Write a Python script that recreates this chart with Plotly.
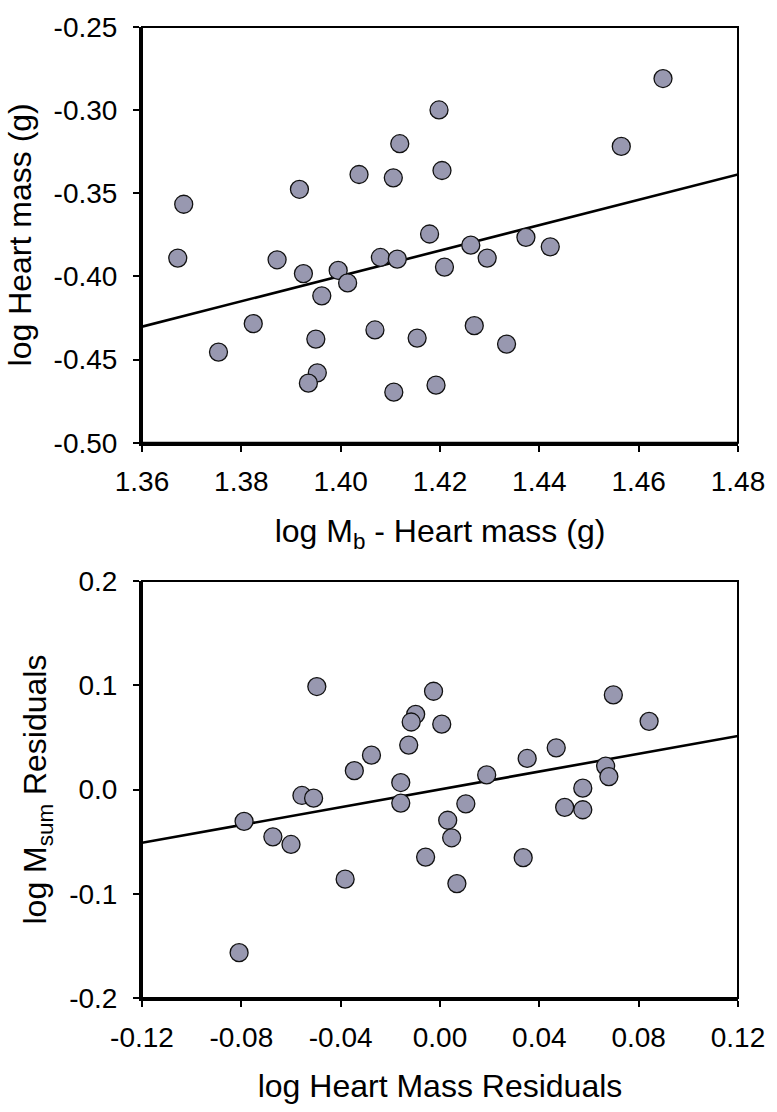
import plotly.graph_objects as go
from plotly.subplots import make_subplots

# ---- Top panel data ----
top_x = [1.3684, 1.3917, 1.4037, 1.4106, 1.4119, 1.4198, 1.4204, 1.4179, 1.4649, 1.4565,
         1.4262, 1.4373, 1.4422, 1.3672, 1.3872, 1.3925, 1.3995, 1.4014, 1.3962, 1.4080,
         1.4114, 1.4209, 1.3824, 1.3754, 1.3950, 1.4069, 1.4154, 1.3953, 1.3935, 1.4107,
         1.4192, 1.4295, 1.4269, 1.4334]
top_y = [-0.3566, -0.3476, -0.3387, -0.3407, -0.3202, -0.2999, -0.3363, -0.3745, -0.2810, -0.3218,
         -0.3812, -0.3765, -0.3822, -0.3890, -0.3900, -0.3983, -0.3964, -0.4039, -0.4117, -0.3886,
         -0.3896, -0.3944, -0.4284, -0.4455, -0.4377, -0.4322, -0.4371, -0.4580, -0.4642, -0.4696,
         -0.4654, -0.3890, -0.4296, -0.4407]
top_fit_x = [1.36, 1.48]
top_fit_y = [-0.4302, -0.3387]
top_xticks = [1.36, 1.38, 1.40, 1.42, 1.44, 1.46, 1.48]
top_xlabels = ["1.36", "1.38", "1.40", "1.42", "1.44", "1.46", "1.48"]
top_yticks = [-0.50, -0.45, -0.40, -0.35, -0.30, -0.25]
top_ylabels = ["-0.50", "-0.45", "-0.40", "-0.35", "-0.30", "-0.25"]

# ---- Bottom panel data ----
bot_x = [-0.0098, -0.0116, 0.0007, -0.0126, -0.0276, -0.0345, -0.0158, -0.0158, -0.0556, -0.0509,
         -0.0789, -0.0673, -0.0600, -0.0382, -0.0058, 0.0031, 0.0047, 0.0188, 0.0351, 0.0468,
         0.0104, 0.0068, 0.0335, 0.0502, 0.0575, 0.0575, 0.0667, 0.0680, 0.0842, -0.0496,
         -0.0026, 0.0698, -0.0809]
bot_y = [0.0721, 0.0648, 0.0627, 0.0426, 0.0330, 0.0181, 0.0067, -0.0130, -0.0057, -0.0083,
         -0.0305, -0.0454, -0.0527, -0.0860, -0.0648, -0.0295, -0.0463, 0.0140, 0.0298, 0.0400,
         -0.0137, -0.0902, -0.0654, -0.0171, 0.0013, -0.0194, 0.0225, 0.0124, 0.0654, 0.0988,
         0.0943, 0.0908, -0.1565]
bot_fit_x = [-0.12, 0.12]
bot_fit_y = [-0.0511, 0.0514]
bot_xticks = [-0.12, -0.08, -0.04, 0.00, 0.04, 0.08, 0.12]
bot_xlabels = ["-0.12", "-0.08", "-0.04", "0.00", "0.04", "0.08", "0.12"]
bot_yticks = [-0.2, -0.1, 0.0, 0.1, 0.2]
bot_ylabels = ["-0.2", "-0.1", "0.0", "0.1", "0.2"]

FONT = "Liberation Sans, Arial, sans-serif"
TICK_SIZE = 28
TITLE_SIZE = 32
MARKER = dict(size=18, color="#9898b0", line=dict(color="#111111", width=1.3))

fig = make_subplots(rows=2, cols=1, vertical_spacing=0.1425)

fig.add_trace(go.Scatter(x=top_fit_x, y=top_fit_y, mode="lines",
                         line=dict(color="black", width=2.6), showlegend=False), row=1, col=1)
fig.add_trace(go.Scatter(x=top_x, y=top_y, mode="markers", marker=MARKER, showlegend=False), row=1, col=1)
fig.add_trace(go.Scatter(x=bot_fit_x, y=bot_fit_y, mode="lines",
                         line=dict(color="black", width=2.6), showlegend=False), row=2, col=1)
fig.add_trace(go.Scatter(x=bot_x, y=bot_y, mode="markers", marker=MARKER, showlegend=False), row=2, col=1)

axis_common = dict(showgrid=False, zeroline=False, showline=True, linecolor="black", linewidth=3,
                   ticks="outside", ticklen=6, tickwidth=1.5, tickcolor="black",
                   tickfont=dict(family=FONT, size=TICK_SIZE, color="black"))

fig.update_xaxes(**axis_common)
fig.update_yaxes(**axis_common)

title_font = dict(family=FONT, size=TITLE_SIZE, color="black")

fig.update_xaxes(range=[1.36, 1.48], tickvals=top_xticks, ticktext=top_xlabels,
                 ticklabelstandoff=6,
                 title=dict(text="log M<sub>b</sub> - Heart mass (g)", font=title_font, standoff=24),
                 domain=[0, 1], row=1, col=1)
fig.update_yaxes(range=[-0.50, -0.25], tickvals=top_yticks, ticktext=top_ylabels,
                 ticklabelstandoff=10,
                 title=dict(text="log Heart mass (g)", font=title_font, standoff=13),
                 domain=[0.5719, 1.0], row=1, col=1)
fig.update_xaxes(range=[-0.12, 0.12], tickvals=bot_xticks, ticktext=bot_xlabels,
                 ticklabelstandoff=6,
                 title=dict(text="log Heart Mass Residuals", font=title_font, standoff=24),
                 domain=[0, 1], row=2, col=1)
fig.update_yaxes(range=[-0.2, 0.2], tickvals=bot_yticks, ticktext=bot_ylabels,
                 ticklabelstandoff=10,
                 title=dict(text="log M<sub>sum</sub> Residuals", font=title_font, standoff=13),
                 domain=[0.0, 0.4294], row=2, col=1)

# thinner top/right box borders
for yd in ([0.5719, 1.0], [0.0, 0.4294]):
    fig.add_shape(type="rect", xref="paper", yref="paper", x0=0, x1=1, y0=yd[0], y1=yd[1],
                  line=dict(color="black", width=2), fillcolor="rgba(0,0,0,0)", layer="above")

fig.update_layout(width=777, height=1112, margin=dict(l=142, r=35, t=20, b=114),
                  paper_bgcolor="white", plot_bgcolor="white",
                  font=dict(family=FONT, color="black"))

fig.write_html("out.html", config={"displayModeBar": False},
               post_script="document.body.style.margin='0';document.body.style.overflow='hidden';")
